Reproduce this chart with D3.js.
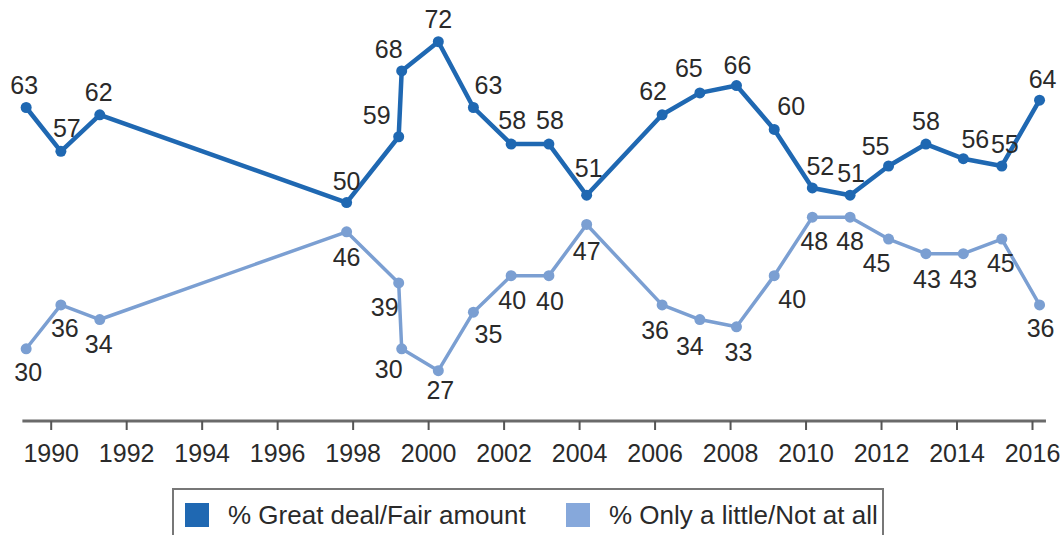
<!DOCTYPE html>
<html>
<head>
<meta charset="utf-8">
<script src="https://cdn.jsdelivr.net/npm/d3@7"></script>
<style>
  html, body { margin: 0; padding: 0; background: #fff; }
  svg { display: block; }
  text { font-family: "Liberation Sans", Arial, Helvetica, sans-serif; }
</style>
</head>
<body>
<svg id="chart" width="1064" height="535"></svg>
<script>
// ---- data ----
const years = [1989.35, 1990.27, 1991.3, 1997.84, 1999.22, 1999.3, 2000.27, 2001.2, 2002.2, 2003.2, 2004.2,
               2006.2, 2007.2, 2008.17, 2009.17, 2010.18, 2011.18, 2012.2, 2013.19, 2014.18, 2015.2, 2016.2];
const greatDeal = [63, 57, 62, 50, 59, 68, 72, 63, 58, 58, 51, 62, 65, 66, 60, 52, 51, 55, 58, 56, 55, 64];
const onlyLittle = [30, 36, 34, 46, 39, 30, 27, 35, 40, 40, 47, 36, 34, 33, 40, 48, 48, 45, 43, 43, 45, 36];
const tickYears = [1990, 1992, 1994, 1996, 1998, 2000, 2002, 2004, 2006, 2008, 2010, 2012, 2014, 2016];
const seriesNames = ["% Great deal/Fair amount", "% Only a little/Not at all"];

// ---- label nudges (layout only) ----
const greatDx = [-2, 6, -1, 0, -22, -13, 0, 15, 1, 1, 2, -9, -11, 1, 17, 8, 1, -13, 0, 12, 3, 3];
const greatDy = [-23, -23, -23, -22, -22, -22, -23, -23, -24, -24, -27, -24, -25, -21, -23, -22, -22, -20, -23, -20, -22, -21];
const littleDx = [2, 4, -1, 0, -14, -13, 2, 15, 1, 1, 0, -7, -10, 2, 18, 2, 0, -12, 1, 0, -1, 1];
const littleDy = [23, 23, 24, 25, 24, 20, 19, 22, 24, 25, 27, 25, 26, 25, 23, 24, 24, 24, 25, 25, 24, 23];

const darkBlue = "#1f68b2";
const lightBlue = "#7b9fd2";

const svg = d3.select("#chart");

const x = d3.scaleLinear().domain([1990, 2016]).range([50.7, 1032]);
const y = d3.scaleLinear().domain([27, 72]).range([370.7, 41.7]);
const axisY = 421;

// axis
const axisG = svg.append("g").attr("transform", `translate(0,${axisY})`);
axisG.append("line")
  .attr("x1", x(1989.25)).attr("x2", x(2016.37))
  .attr("y1", 0).attr("y2", 0)
  .attr("stroke", "#6a6a6a").attr("stroke-width", 3);
const axis = d3.axisBottom(x).tickValues(tickYears).tickFormat(d3.format("d")).tickSize(9).tickPadding(14);
const ax = axisG.append("g").call(axis);
ax.select(".domain").remove();
ax.selectAll(".tick line").attr("stroke", "#555").attr("stroke-width", 2);
ax.selectAll(".tick text")
  .attr("font-size", 25).attr("fill", "#2a2a2a")
  .style("font-family", '"Liberation Sans", Arial, sans-serif');

function drawSeries(values, color, width, r, dxs, dys) {
  const pts = years.map((yr, i) => ({ yr, v: values[i], i }));
  const line = d3.line().x(d => x(d.yr)).y(d => y(d.v));
  svg.append("path").datum(pts)
    .attr("d", line).attr("fill", "none")
    .attr("stroke", color).attr("stroke-width", width)
    .attr("stroke-linejoin", "round").attr("stroke-linecap", "round");
  svg.append("g").selectAll("circle").data(pts).join("circle")
    .attr("cx", d => x(d.yr)).attr("cy", d => y(d.v)).attr("r", r)
    .attr("fill", color);
  svg.append("g").selectAll("text").data(pts).join("text")
    .attr("x", d => x(d.yr) + dxs[d.i])
    .attr("y", d => y(d.v) + dys[d.i])
    .attr("text-anchor", "middle")
    .attr("dominant-baseline", "central")
    .attr("font-size", 25)
    .attr("fill", "#2a2a2a")
    .text(d => d.v);
}

drawSeries(onlyLittle, lightBlue, 3.5, 5.5, littleDx, littleDy);
drawSeries(greatDeal, darkBlue, 4.5, 5.5, greatDx, greatDy);

// legend
const lg = svg.append("g");
lg.append("rect").attr("x", 173).attr("y", 489).attr("width", 710).attr("height", 80)
  .attr("fill", "#fff").attr("stroke", "#777").attr("stroke-width", 2);
const legendColors = [darkBlue, "#86a8db"];
const legendX = [185, 566];
seriesNames.forEach((name, i) => {
  lg.append("rect").attr("x", legendX[i]).attr("y", 503).attr("width", 24).attr("height", 24)
    .attr("fill", legendColors[i]);
  lg.append("text").attr("x", legendX[i] + 43).attr("y", 524)
    .attr("font-size", 26).attr("fill", "#2a2a2a").text(name);
});
</script>
</body>
</html>
